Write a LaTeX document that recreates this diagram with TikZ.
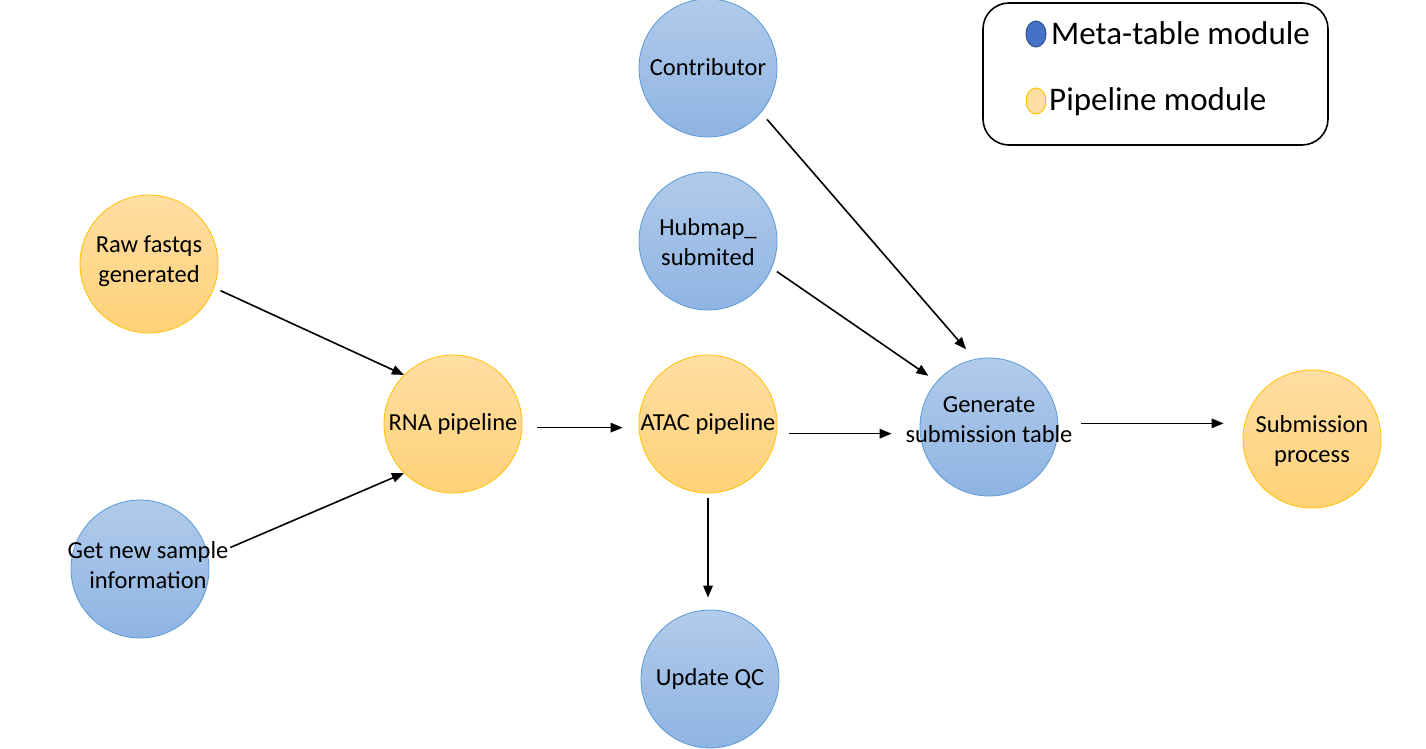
\documentclass[tikz,border=0pt]{standalone}
\usepackage{fontspec}
\setmainfont{Carlito}
\usetikzlibrary{arrows.meta}
\usetikzlibrary{shapes.geometric}

\definecolor{metatop}{HTML}{B1CBEA}
\definecolor{metabot}{HTML}{8FB4E3}
\definecolor{metaline}{HTML}{5B9BD5}
\definecolor{pipetop}{HTML}{FFDEA3}
\definecolor{pipebot}{HTML}{FFD278}
\definecolor{pipeline}{HTML}{FFC000}
\definecolor{legblue}{HTML}{4472C4}
\definecolor{legblueline}{HTML}{2F528F}

\tikzset{
    module/.style = {circle, minimum size = 138pt, inner sep = 0pt, line width = 0.8pt},
    meta/.style = {module, draw = metaline, top color = metatop, bottom color = metabot},
    pipe/.style = {module, draw = pipeline, top color = pipetop, bottom color = pipebot},
    txt/.style = {align = center, inner sep = 0pt, font = \fontsize{24.5}{30}\selectfont},
    arr/.style = {-{Triangle[length = 12pt, width = 9.5pt]}, line width = 1.6pt}
}

\begin{document}
\begin{tikzpicture} [x = 1pt, y = -1pt]

    \useasboundingbox (0,0) rectangle (1426,749);

    % legend
    \draw [line width = 1.6pt, rounded corners = 26pt] (983,3) rectangle (1328,145);
    \node [ellipse, minimum width = 20pt, minimum height = 26pt, inner sep = 0pt,
        fill = legblue, draw = legblueline, line width = 1pt] (legmeta) at (1036,34) {};
    \node [ellipse, minimum width = 20pt, minimum height = 26pt, inner sep = 0pt,
        fill = pipetop, draw = pipeline, line width = 1pt] (legpipe) at (1036,101) {};
    \node [right, inner sep = 0pt, font = \fontsize{33}{40}\selectfont] (legmetatxt) at (1051,33) {Meta-table module};
    \node [right, inner sep = 0pt, font = \fontsize{33}{40}\selectfont] (legpipetxt) at (1049,102) {Pipeline module};

    % modules
    \node [meta, label = {[txt, yshift = 1pt]center:Contributor}] (contrib) at (708,68) {};
    \node [meta, label = {[txt, yshift = -1pt]center:Hubmap\_\\submited}] (hubmap) at (708,241) {};
    \node [pipe, label = {[txt, yshift = 3pt]center:Raw fastqs\\generated}] (raw) at (149,264) {};
    \node [meta, label = {[txt, xshift = 8pt, yshift = 4pt]center:Get new sample\\information}] (getnew) at (140,569) {};
    \node [pipe, label = {[txt]center:RNA pipeline}] (rna) at (453,424) {};
    \node [pipe, label = {[txt]center:ATAC pipeline}] (atac) at (708,424) {};
    \node [meta, label = {[txt]center:Update QC}] (qc) at (710,679) {};
    \node [meta, label = {[txt, yshift = 7pt]center:Generate\\submission table}] (gen) at (989,427) {};
    \node [pipe, label = {[txt, yshift = -2pt]center:Submission\\process}] (sub) at (1312,439) {};

    % connectors
    \draw [arr, shorten <= 7pt] (raw.-20) -- (rna.135);
    \draw [arr, shorten <= 24pt] (getnew.10) -- (rna.-135);
    \draw [arr, shorten <= 15pt, shorten >= 16pt] (rna.-3) -- (atac.-3 -| atac.west);
    \draw [arr, shorten <= 12pt, shorten >= 28pt] (atac.-8) -- (gen.west |- atac.-8);
    \draw [arr, shorten <= 5pt, shorten >= 12pt] (atac.south) -- (atac.south |- qc.north);
    \draw [arr, shorten <= 9pt, shorten >= 13pt] (contrib.-40) -- (gen.102);
    \draw [arr, shorten <= 6pt, shorten >= 10pt] (hubmap.-23) -- (gen.139);
    \draw [arr, shorten <= 23pt, shorten >= 19pt] (gen.3) -- (sub.west |- gen.3);

\end{tikzpicture}
\end{document}
